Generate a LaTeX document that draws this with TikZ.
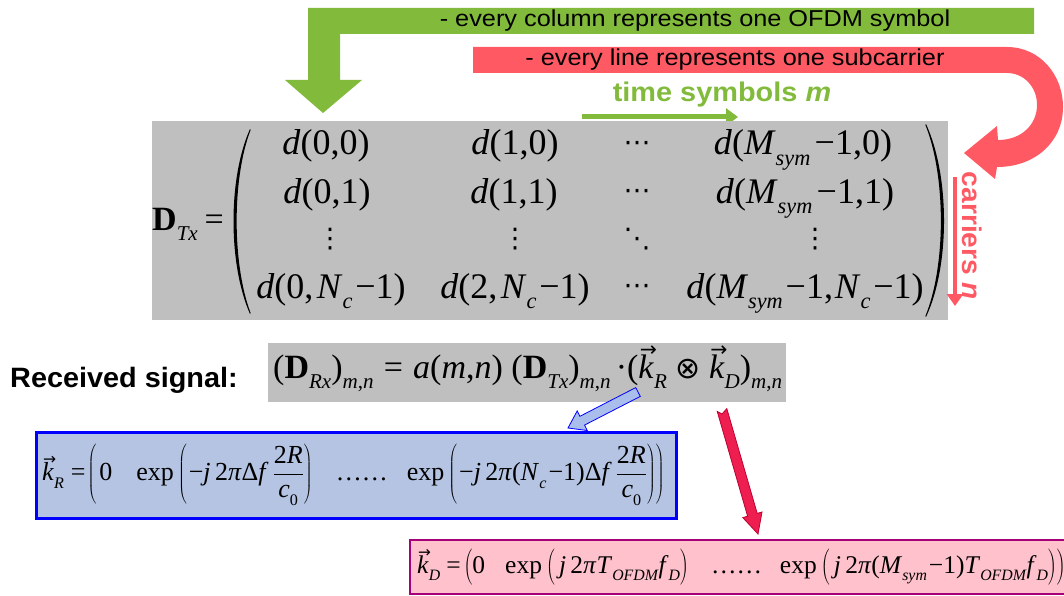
\documentclass[tikz,border=0pt]{standalone}
\usepackage{fontspec}
\usepackage{graphicx}
\usetikzlibrary{arrows.meta}
\newfontfamily\tms{Liberation Serif}
\newfontfamily\arl{Liberation Sans}
\newfontfamily\djs{DejaVu Sans}
\newcommand\fs[1]{\fontsize{#1}{#1}\selectfont}
\newcommand\sbs[1]{\raisebox{-0.3em}{\scalebox{0.62}{#1}}}
\newcommand\vk[1]{\rlap{\raisebox{0.62em}{\hspace{0.04em}\scalebox{0.6}{\djs →}}}\textit{k}\sbs{\textit{#1}}}
\newcommand\tall{\vrule height 0.95em depth 0.4em width 0pt}
\definecolor{grn}{RGB}{130,187,60}
\definecolor{rd}{RGB}{255,90,100}
\definecolor{gry}{RGB}{191,191,191}
\definecolor{bfill}{RGB}{180,196,226}
\definecolor{bline}{RGB}{0,0,255}
\definecolor{pfill}{RGB}{255,193,204}
\definecolor{pline}{RGB}{165,0,120}
\definecolor{crim}{RGB}{238,30,80}
\definecolor{crimd}{RGB}{190,0,50}
\definecolor{lblue}{RGB}{170,190,235}
\tikzset{
  mat/.style={font=\tms\fs{36}, inner sep=0pt, anchor=base},
  dots/.style={font=\djs\fs{27}, inner sep=0pt},
  bannertext/.style={font=\arl\fs{23}, inner sep=0pt},
  labeltext/.style={font=\arl\bfseries\fs{27}, inner sep=0pt},
  formula/.style={inner sep=0pt},
}
\begin{document}
\begin{tikzpicture}[x=1pt,y=-1pt]
\useasboundingbox (0,0) rectangle (1064,596);
\clip (0,0) rectangle (1064,596);
% green bent arrow
\fill[grn] (1034,8) -- (308,8) -- (308,80) -- (285,80) -- (323,113) -- (362,80) -- (340,80) -- (340,34) -- (1034,34) -- cycle;
\node[bannertext] (t1) at (695,21) {\scalebox{1.1}[1]{- every column represents one OFDM symbol}};
% red bent arrow
\fill[rd] (473,47) -- (1007,47) .. controls (1040,47) and (1063,75) .. (1063,107) .. controls (1063,142) and (1035,167) .. (997,167) -- (995,179) -- (964,153) -- (997,126) -- (998,140) .. controls (1022,140) and (1037,124) .. (1037,105) .. controls (1037,87) and (1024,73) .. (1007,73) -- (473,73) -- cycle;
\node[bannertext] (t2) at (735,60) {\scalebox{1.1}[1]{- every line represents one subcarrier}};
% time symbols
\node[labeltext, text=grn] (ts) at (722,95) {\scalebox{1.07}[1]{time symbols \textit{m}}};
\coordinate (tsa) at (582,117);
\coordinate (tsb) at (738,117);
\draw[grn, line width=5pt, -{Triangle[length=12pt,width=17pt]}] (tsa) -- (tsb);
% matrix panel
\fill[gry] (152,121) rectangle (948,320);
\node[mat, font=\tms\fs{34}, anchor=base west] (dtx) at (152,230) {\textbf{D}\sbs{\textit{Tx}}\hspace{0.2em}=};
\fill (250,129) .. controls (228,178) and (228,264) .. (250,314) -- (250.6,313) .. controls (232,264) and (232,178) .. (250.6,130) -- cycle;
\fill (926,124) .. controls (950,176) and (950,266) .. (926,317) -- (925.4,316) .. controls (946,266) and (946,176) .. (925.4,125) -- cycle;
\node[mat] (a11) at (326,155) {\textit{d}(0,0)};
\node[mat] (a12) at (515,155) {\textit{d}(1,0)};
\node[dots] (a13) at (637,146) {⋯};
\node[mat] (a14) at (803,155) {\textit{d}(\textit{M}\sbs{\textit{sym}}\kern0.12em−1,0)};
\node[mat] (a21) at (327,203) {\textit{d}(0,1)};
\node[mat] (a22) at (514,203) {\textit{d}(1,1)};
\node[dots] (a23) at (637,194) {⋯};
\node[mat] (a24) at (805,203) {\textit{d}(\textit{M}\sbs{\textit{sym}}\kern0.12em−1,1)};
\node[dots] (a31) at (330,239) {⋮};
\node[dots] (a32) at (515,239) {⋮};
\node[dots] (a33) at (637,239) {⋱};
\node[dots] (a34) at (815,239) {⋮};
\node[mat] (a41) at (331,298) {\textit{d}(0,\kern0.1em\textit{N}\sbs{\textit{c}}\kern0.08em−1)};
\node[mat] (a42) at (515,298) {\textit{d}(2,\kern0.1em\textit{N}\sbs{\textit{c}}\kern0.08em−1)};
\node[dots] (a43) at (637,289) {⋯};
\node[mat] (a44) at (805,298) {\textit{d}(\textit{M}\sbs{\textit{sym}}\kern0.08em−1,\kern0.05em\textit{N}\sbs{\textit{c}}\kern0.08em−1)};
% carriers n
\node[labeltext, text=rd, rotate=-90] (cn) at (972,236) {\scalebox{1.04}[1]{carriers \textit{n}}};
\coordinate (ca) at (955,177);
\coordinate (cb) at (955,306);
\draw[rd, line width=4pt, -{Triangle[length=12pt,width=16pt]}] (ca) -- (cb);
% received signal
\node[font=\arl\bfseries\fs{28}, inner sep=0pt, anchor=west] (rs) at (10,380) {\scalebox{1.03}[1]{Received signal:}};
\fill[gry] (268,343) rectangle (786,402);
\node[formula, font=\tms\fs{34}, anchor=base west] (rx) at (273,378) {(\textbf{D}\sbs{\textit{Rx}})\sbs{\textit{m},\textit{n}}\hspace{0.3em}=\hspace{0.3em}\textit{a}(\textit{m},\textit{n})\hspace{0.25em}(\textbf{D}\sbs{\textit{Tx}})\sbs{\textit{m},\textit{n}}\hspace{0.15em}·(\vk{R}\hspace{0.25em}{\djs\fs{30}⊗}\hspace{0.25em}\vk{D})\sbs{\textit{m},\textit{n}}};
% k_R box
\draw[bline, line width=3pt, fill=bfill] (36,432) rectangle (676,518);
\node[formula, font=\tms\fs{26}, anchor=west] (kr) at (42,475) {\vk{R}\hspace{7pt}=\hspace{2pt}$\displaystyle\left(\mbox{\hspace{3pt}0\hspace{24pt}exp}\left(\mbox{\hspace{2pt}−\textit{j}\,2\textit{π}Δ\textit{f}\hspace{4pt}}\frac{\mbox{2\textit{R}}}{\mbox{\textit{c}\sbs{0}}}\right)\mbox{\hspace{19pt}……\hspace{19pt}exp}\left(\mbox{\hspace{2pt}−\textit{j}\,2\textit{π}(\textit{N}\sbs{\textit{c}}\kern0.08em−1)Δ\textit{f}\hspace{4pt}}\frac{\mbox{2\textit{R}}}{\mbox{\textit{c}\sbs{0}}}\right)\right)$};
% k_D box
\draw[pline, line width=2pt, fill=pfill] (410,540) rectangle (1075,594);
\node[formula, font=\tms\fs{25.5}, anchor=west] (kd) at (417,567) {\vk{D}\hspace{6pt}=\hspace{3pt}$\left(\tall\mbox{0\hspace{20pt}exp}\left(\tall\mbox{\,\textit{j}\,2\textit{π}\textit{T}\sbs{\textit{OFDM}}\textit{f}\sbs{\textit{D}}}\right)\mbox{\hspace{18pt}……\hspace{18pt}exp}\left(\tall\mbox{\,\textit{j}\,2\textit{π}(\textit{M}\sbs{\textit{sym}}\kern0.08em−1)\textit{T}\sbs{\textit{OFDM}}\textit{f}\sbs{\textit{D}}}\right)\right)$};
% blue block arrow
\filldraw[fill=lblue, draw=bline, line width=0.8pt] (640.3,396.4) -- (584.5,425.1) -- (587.2,430.5) -- (568,428) -- (577.2,410.9) -- (579.9,416.3) -- (635.7,387.6) -- cycle;
% crimson block arrow
\filldraw[fill=crim, draw=crimd, line width=0.8pt] (726.8,408.6) -- (757.2,513.4) -- (762.0,512.0) -- (758,534) -- (742.8,517.6) -- (747.6,516.2) -- (717.2,411.4) -- (722,414) -- cycle;
\end{tikzpicture}
\end{document}
